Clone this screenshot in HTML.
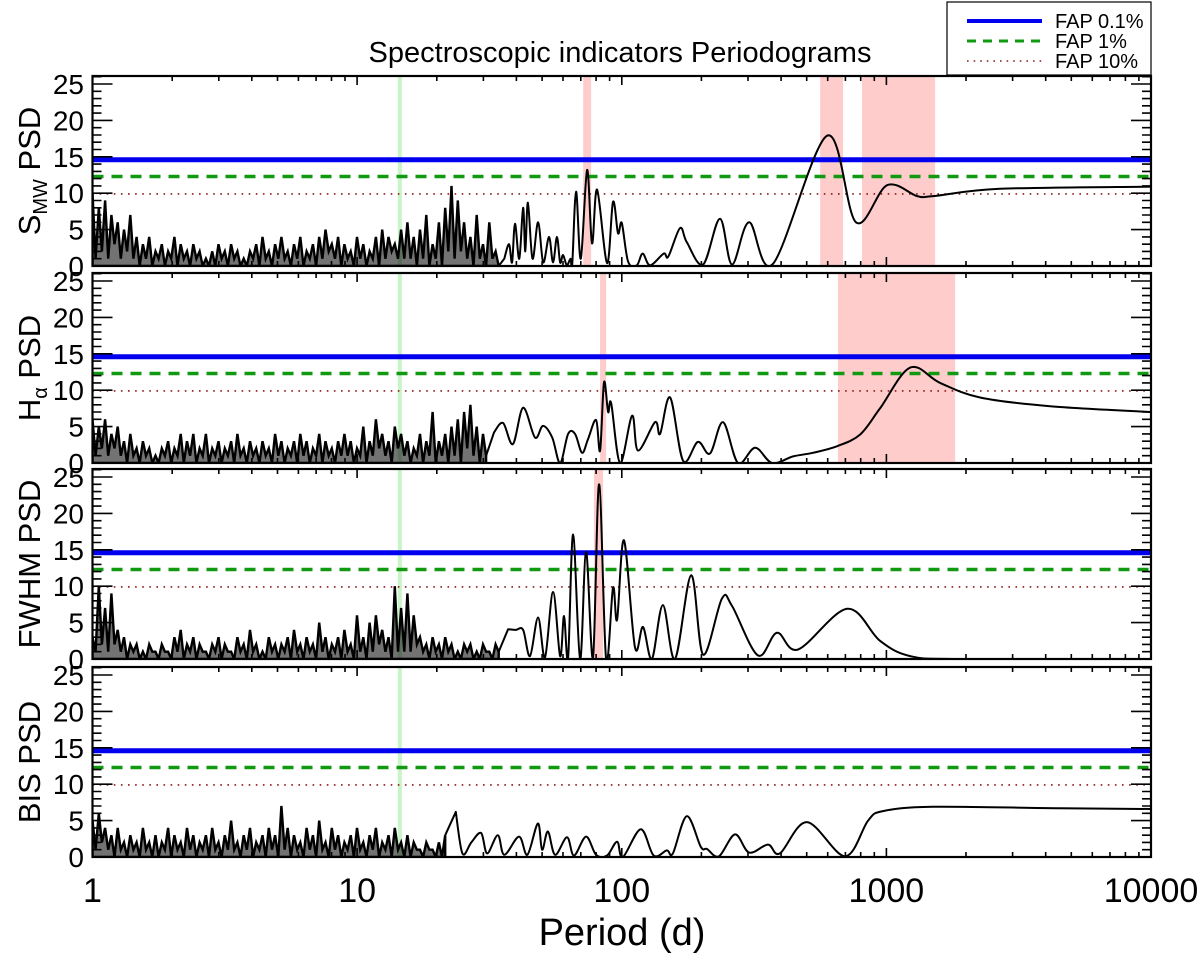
<!DOCTYPE html>
<html><head><meta charset="utf-8">
<style>
html,body{margin:0;padding:0;background:#fff;}
svg{display:block;font-family:"Liberation Sans",Arial,sans-serif;}
</style></head>
<body>
<svg id="chart" width="1200" height="953" viewBox="0 0 1200 953" xmlns="http://www.w3.org/2000/svg">
<text x="620" y="62" font-size="29" text-anchor="middle">Spectroscopic indicators Periodograms</text>
<g>
<rect x="947" y="2" width="204" height="73" fill="#fff" stroke="#000" stroke-width="1.2"/>
<line x1="967" y1="21" x2="1042" y2="21" stroke="#0000ee" stroke-width="4"/>
<text x="1055" y="28" font-size="20">FAP 0.1%</text>
<line x1="967" y1="41" x2="1042" y2="41" stroke="#119911" stroke-width="3" stroke-dasharray="9,7"/>
<text x="1055" y="48" font-size="20">FAP 1%</text>
<line x1="967" y1="61" x2="1042" y2="61" stroke="#8b1a1a" stroke-width="1.6" stroke-dasharray="1.6,5"/>
<text x="1055" y="68" font-size="20">FAP 10%</text>
</g>
<text x="622" y="945" font-size="38" text-anchor="middle">Period (d)</text>
</svg>
<script>
// ---- data ----
const panelNames = ["smw", "halpha", "fwhm", "bis"];
const fapLevels = [14.6, 12.3, 9.9];
const xTickLabels = ["1", "10", "100", "1000", "10000"];
const yTickLabels = [0, 5, 10, 15, 20, 25];
const greenLinePeriod = 14.5;
const bandsSmw = [[71.5, 76.6], [562, 686], [809, 1528]];
const bandsHalpha = [[82.8, 87.3], [656, 1820]];
const bandsFwhm = [[78.5, 85]];
const bandsBis = [];
// noise sections: values on a log grid starting at 1 d, step 0.0119 decades
const noiseSmw = [10,1,8,2,9,1,7,3,6,1,5,2,7,1,4,0,3,1,4,0,
2,1,3,0,2,1,4,0,3,1,2,0,3,1,2,0,1,0,2,0,
3,1,2,0,3,1,2,0,1,0,2,1,3,0,4,1,2,0,3,1,
4,1,2,0,3,1,4,0,2,1,3,0,4,1,5,2,3,1,4,0,
3,1,2,0,4,1,3,0,2,1,4,0,5,1,4,2,3,1,5,1,
6,1,4,0,5,1,7,0,3,1,6,0,8,2,11,1,9,2,6,1,
4,0,7,1,3,0,6,1,2,0];
const noiseHalpha = [6,1,5,2,6,1,4,2,5,1,3,0,4,1,2,0,3,1,2,0,
1,0,2,1,3,0,2,1,4,0,3,1,4,0,2,1,4,0,2,1,
3,0,2,1,3,0,4,1,2,0,3,1,2,0,3,1,2,0,4,1,
3,0,2,1,3,0,4,1,3,0,2,1,4,0,3,1,2,0,3,1,
4,1,3,0,2,1,5,0,3,1,6,2,4,1,3,0,5,2,4,1,
3,0,2,1,4,0,3,1,7,0,3,1,4,0,5,1,6,0,7,2,
8,1,5,0,4,1];
const noiseFwhm = [3,1,10,2,7,1,9,2,4,1,3,0,2,1,2,0,1,0,2,1,
1,0,2,1,1,0,3,1,4,0,2,1,3,0,2,1,1,0,2,1,
3,0,2,1,1,0,3,1,2,0,4,1,2,0,1,0,3,1,2,0,
2,1,3,0,4,1,2,0,3,1,2,0,5,1,3,0,2,1,3,0,
4,1,2,0,6,1,3,0,5,1,6,2,4,1,3,0,10,1,7,1,
9,1,6,2,3,1,2,0,3,1,2,0,3,1,2,0,1,0,2,1,
2,0,1,0,2,1,1,0,2,1];
const noiseBis = [5,1,6,2,4,1,3,0,4,1,2,0,3,1,2,0,4,1,2,0,
3,0,2,1,4,0,3,1,2,0,4,1,3,0,2,1,3,0,4,1,
2,0,3,1,5,1,2,0,3,1,4,0,2,1,3,0,4,1,3,0,
7,1,4,0,3,1,2,0,4,1,3,0,5,1,2,0,4,1,3,0,
2,1,3,0,4,1,2,0,3,1,4,0,2,1,3,0,4,1,2,0,
3,0,2,1,1,0,2,1,1,0,2,0,3];
// smooth sections: periods (d) and PSD values
const periodsSmw = [36,37.5,38.5,39.5,41,42.4,43.2,44.2,46,48.3,50.5,53.1,55,56.9,58.5,60,62,64,65,67.2,70,74,77.2,80.7,88,92.7,96.8,100,105.7,114,120,128,144,150,166,176,203,235,261,303,373,597,768,1006,1307,1502,2692,10000];
const valuesSmw  = [1,3,0.5,5.8,1,8,2,8.7,1,6,0.5,4,0.5,4,0.5,1.5,0.1,1,0.2,10.2,1,13.2,3.1,10.5,0.4,8.8,4.5,5.9,0.6,0.1,1.7,0.1,1.7,1.3,5.2,3.3,0.2,6.5,0.2,6,0.3,17.9,6,11.1,9.6,9.6,10.6,10.9];
const periodsHalpha = [32.9,35.6,38.8,42.4,47,50.4,54.6,58.5,62.7,66.6,70.8,74.6,80,82.8,85.7,88.8,91.2,98.6,109.4,115.2,133.6,139.6,152.4,170.6,194,215.6,241.5,275,319,370,444,528,650,795,946,1230,1596,2260,4155,10000];
const valuesHalpha  = [4.2,5.5,2.6,7.6,3.5,5.1,3.5,0,4,4,1.4,3.3,5.9,1.7,11.1,7,8.2,0,6.5,1.7,5.6,4,9,0.3,2.9,1.3,5.6,0,2.1,0,0.9,1.4,2.3,3.9,7.5,13.1,11,9,7.8,7.0];
const periodsFwhm = [37.2,39.8,42.4,45,48.3,51.3,55,58.5,60.5,62.7,65.5,69.6,73.3,77.9,82.1,87.3,92.7,96,102,112.2,120.3,130,143,159,183,203,239,261,327,386,464,711,946,1230,1900,10000];
const valuesFwhm  = [4.1,4,4,0.4,5.7,0.2,9.2,0.4,5.9,0.2,17.1,0,14.7,0.2,24,0,9.8,5.4,16.3,1.6,4.4,0,7.4,0,11.5,0.6,8.3,7.3,0.5,3.6,1.3,6.9,2.5,0.4,0,0];
const periodsBis = [23.6,25,27,29.4,31,34,36,40.9,44,48.2,50,52.6,56,62.1,66,73.3,80,88,96,101,118,132,148,156,176,199,210,233,268,303,357,396,501,698,853,971,1502,4497,10000];
const valuesBis  = [6.2,0.5,2,3.3,0.5,3,0.3,2.8,0.3,4.6,1,3.5,0.3,2.7,0.2,2.8,0.3,0.2,2.1,0,3.8,0.2,0.9,0.5,5.6,1.4,1.1,0.1,3.1,0.6,1.7,0.5,4.8,0.1,5,6.3,6.9,6.7,6.6];

const noiseSeries = [noiseSmw, noiseHalpha, noiseFwhm, noiseBis];
const periodSeries = [periodsSmw, periodsHalpha, periodsFwhm, periodsBis];
const valueSeries = [valuesSmw, valuesHalpha, valuesFwhm, valuesBis];
const bandSeries = [bandsSmw, bandsHalpha, bandsFwhm, bandsBis];

// ---- layout ----
const X0 = 92.5, X1 = 1151, DEC = (X1 - X0) / 4;
const TOPS = [76, 273, 469, 667], PH = 190, YS = 7.28;
const NOISE_STEP = 0.0119;
function xs(p){ return X0 + DEC * Math.log10(p); }
function ys(v, i){ return TOPS[i] + PH - v * YS; }

const svg = document.getElementById('chart');
const NS = 'http://www.w3.org/2000/svg';
function mk(tag, attrs, parent){
  const e = document.createElementNS(NS, tag);
  for (const k in attrs) e.setAttribute(k, attrs[k]);
  (parent || svg).appendChild(e);
  return e;
}
function catmull(pts){
  let d = 'M' + pts[0][0].toFixed(1) + ',' + pts[0][1].toFixed(1);
  for (let i = 0; i < pts.length - 1; i++){
    const p0 = pts[Math.max(0, i-1)], p1 = pts[i], p2 = pts[i+1], p3 = pts[Math.min(pts.length-1, i+2)];
    const c1x = p1[0] + (p2[0]-p0[0])/6, c1y = p1[1] + (p2[1]-p0[1])/6;
    const c2x = p2[0] - (p3[0]-p1[0])/6, c2y = p2[1] - (p3[1]-p1[1])/6;
    d += ' C' + c1x.toFixed(1)+','+c1y.toFixed(1)+' '+c2x.toFixed(1)+','+c2y.toFixed(1)+' '+p2[0].toFixed(1)+','+p2[1].toFixed(1);
  }
  return d;
}
const yLabelTexts = [['S','MW',' PSD'], ['H','\u03b1',' PSD'], ['FWHM PSD'], ['BIS PSD']];

for (let i = 0; i < 4; i++){
  const top = TOPS[i], bot = top + PH;
  const g = mk('g', {});
  
  
  const cp = mk('clipPath', {id: 'clip' + i}, g);
  mk('rect', {x: X0, y: top, width: X1 - X0, height: PH}, cp);
  const inner = mk('g', {'clip-path': 'url(#clip' + i + ')'}, g);
  bandSeries[i].forEach(b => {
    const r = mk('rect', {x: xs(b[0]), y: top, width: xs(b[1]) - xs(b[0]), height: PH, fill: '#ffcccc'}, inner);
    
    
  });
  const gl = mk('line', {x1: xs(greenLinePeriod), x2: xs(greenLinePeriod), y1: top, y2: bot, stroke: '#c8f5c8', 'stroke-width': 4}, inner);
  
  
  const fb = mk('line', {x1: X0, x2: X1, y1: ys(fapLevels[0], i), y2: ys(fapLevels[0], i), stroke: '#0000ee', 'stroke-width': 5}, inner);
  
  
  const fg = mk('line', {x1: X0, x2: X1, y1: ys(fapLevels[1], i), y2: ys(fapLevels[1], i), stroke: '#119911', 'stroke-width': 3.5, 'stroke-dasharray': '11,8'}, inner);
  
  
  const fr = mk('line', {x1: X0, x2: X1, y1: ys(fapLevels[2], i), y2: ys(fapLevels[2], i), stroke: '#8b1a1a', 'stroke-width': 1.6, 'stroke-dasharray': '1.6,5.5'}, inner);
  
  
  // noise mass (filled)
  const noise = noiseSeries[i];
  let nd = 'M' + X0 + ',' + bot + ' ';
  let lastX = X0;
  noise.forEach((v, k) => {
    lastX = xs(Math.pow(10, k * NOISE_STEP));
    nd += 'L' + lastX.toFixed(1) + ',' + ys(v, i).toFixed(1) + ' ';
  });
  const nfill = mk('path', {d: nd + 'L' + lastX.toFixed(1) + ',' + bot + 'Z', fill: '#000', 'fill-opacity': 0.55, stroke: '#000', 'stroke-width': 2.4, 'stroke-linejoin': 'miter'}, inner);
  
  
  const pts = periodSeries[i].map((p, k) => [xs(p), ys(valueSeries[i][k], i)]);
  let d = 'M' + lastX.toFixed(1) + ',' + ys(noise[noise.length-1], i).toFixed(1) + ' L' + pts[0][0].toFixed(1) + ',' + pts[0][1].toFixed(1) + ' ';
  d += catmull(pts).replace(/^M[^ ]+/, '');
  const path = mk('path', {d: d, fill: 'none', stroke: '#000', 'stroke-width': 2, 'stroke-linejoin': 'round'}, inner);
  
  
  const fr2 = mk('rect', {x: X0, y: top, width: X1 - X0, height: PH, fill: 'none', stroke: '#000', 'stroke-width': 2.2}, g);
  
  
  let td = '';
  for (let v = 0; v <= 26; v++){
    const y = ys(v, i), L = (v % 5 === 0) ? 20 : 9;
    td += 'M' + X0 + ',' + y.toFixed(1) + 'h' + L + 'M' + X1 + ',' + y.toFixed(1) + 'h' + (-L);
  }
  for (let dec = 0; dec < 4; dec++){
    for (let m = 1; m <= 9; m++){
      const x = xs(Math.pow(10, dec) * m), L = (m === 1) ? 9 : 5;
      td += 'M' + x.toFixed(1) + ',' + top + 'v' + L + 'M' + x.toFixed(1) + ',' + bot + 'v' + (-L);
    }
  }
  const ticks = mk('path', {d: td, stroke: '#000', 'stroke-width': 1.6, fill: 'none'}, g);
  
  
  yTickLabels.forEach(v => {
    const t = mk('text', {x: 84, y: ys(v, i) + 10, 'font-size': 28, 'text-anchor': 'end'}, g);
    
    
    t.textContent = v;
  });
  const cy = top + PH / 2;
  const yl = mk('text', {x: 0, y: 0, 'font-size': 31, 'text-anchor': 'middle', transform: 'translate(40,' + cy + ') rotate(-90)'}, g);
  
  
  const parts = yLabelTexts[i];
  if (parts.length === 1){ yl.textContent = parts[0]; }
  else {
    const a = mk('tspan', {}, yl); a.textContent = parts[0];
    const b = mk('tspan', {'font-size': 20, dy: 7}, yl); b.textContent = parts[1];
    const c = mk('tspan', {dy: -7}, yl); c.textContent = parts[2];
  }
}
xTickLabels.forEach((lab, k) => {
  const t = mk('text', {x: xs(Number(lab)), y: 902, 'font-size': 34, 'text-anchor': 'middle'});
  
  
  t.textContent = lab;
});
</script>
</body></html>
